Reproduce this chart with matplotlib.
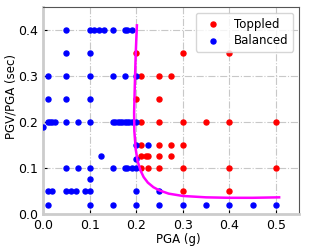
import numpy as np
import matplotlib
matplotlib.use("Agg")
import matplotlib.pyplot as plt

# toppled specimens (PGA in g, PGV/PGA in sec)
toppled_pga = [0.2, 0.3, 0.4,
               0.21, 0.25, 0.275,
               0.2, 0.25,
               0.21, 0.25, 0.3, 0.35, 0.4, 0.5,
               0.21, 0.25, 0.275, 0.3,
               0.21, 0.22, 0.225, 0.25, 0.275,
               0.21, 0.225, 0.25, 0.3, 0.4, 0.5,
               0.3, 0.4]
toppled_ratio = [0.35, 0.35, 0.35,
                 0.3, 0.3, 0.3,
                 0.25, 0.25,
                 0.2, 0.2, 0.2, 0.2, 0.2, 0.2,
                 0.15, 0.15, 0.15, 0.15,
                 0.125, 0.125, 0.125, 0.125, 0.125,
                 0.1, 0.1, 0.1, 0.1, 0.1, 0.1,
                 0.05, 0.05]

# balanced specimens
balanced_pga = [0.05, 0.1, 0.11, 0.12, 0.13, 0.15, 0.175, 0.18, 0.19,
                0.05, 0.1,
                0.01, 0.05, 0.1, 0.15, 0.175, 0.2,
                0.01, 0.05, 0.1,
                0.01, 0.015, 0.02, 0.025, 0.05, 0.075, 0.1, 0.15, 0.155, 0.16,
                0.165, 0.17, 0.175, 0.18, 0.185, 0.19, 0.2,
                0.0,
                0.2, 0.225,
                0.125, 0.2,
                0.05, 0.075, 0.1, 0.15, 0.175, 0.18, 0.19, 0.2,
                0.1,
                0.01, 0.02, 0.05, 0.06, 0.07, 0.09, 0.1, 0.2, 0.25,
                0.01, 0.1, 0.15, 0.2, 0.25, 0.3, 0.35, 0.4, 0.45, 0.5]
balanced_ratio = [0.4] * 9 + [0.35] * 2 + [0.3] * 6 + [0.25] * 3 + [0.2] * 17 + \
                 [0.19] + [0.15] * 2 + [0.125, 0.12] + [0.1] * 8 + [0.075] + \
                 [0.05] * 9 + [0.02] * 10

# boundary curve
curve_pga = [0.2015, 0.199, 0.197, 0.1955, 0.196, 0.199, 0.203, 0.209, 0.216,
             0.225, 0.237, 0.25, 0.27, 0.3, 0.35, 0.4, 0.45, 0.507]
curve_ratio = [0.41, 0.35, 0.28, 0.22, 0.18, 0.14, 0.115, 0.095, 0.08,
               0.068, 0.058, 0.051, 0.044, 0.039, 0.036, 0.035, 0.035, 0.036]

fig = plt.figure(figsize=(3.1, 2.49), dpi=100)
ax = fig.add_axes([0.139, 0.141, 0.826, 0.831])

ax.grid(True, linestyle='-.', color='#c8c8c8', linewidth=0.8)
ax.set_axisbelow(True)

ax.scatter(toppled_pga, toppled_ratio, s=13, color='red', label='Toppled', zorder=3)
ax.scatter(balanced_pga, balanced_ratio, s=13, color='blue', label='Balanced', zorder=3)
ax.plot(curve_pga, curve_ratio, color='magenta', linewidth=1.8, zorder=4)

ax.set_xlim(0, 0.55)
ax.set_ylim(0, 0.45)
ax.set_xticks([0.0, 0.1, 0.2, 0.3, 0.4, 0.5])
ax.set_yticks([0.0, 0.1, 0.2, 0.3, 0.4])
ax.tick_params(direction='in', labelsize=9, length=3)
ax.set_xlabel('PGA (g)', fontsize=8.5)
ax.set_ylabel('PGV/PGA (sec)', fontsize=8.5)
ax.xaxis.set_label_coords(0.53, -0.092)
ax.yaxis.set_label_coords(-0.1, 0.565)

for side in ['top', 'right']:
    ax.spines[side].set_color('#555555')
for side in ['left', 'bottom']:
    ax.spines[side].set_color('#cccccc')
    ax.spines[side].set_linewidth(2)

ax.legend(loc='upper right', fontsize=8.5, borderpad=0.4, labelspacing=0.3)

fig.savefig('out.png', dpi=100)
